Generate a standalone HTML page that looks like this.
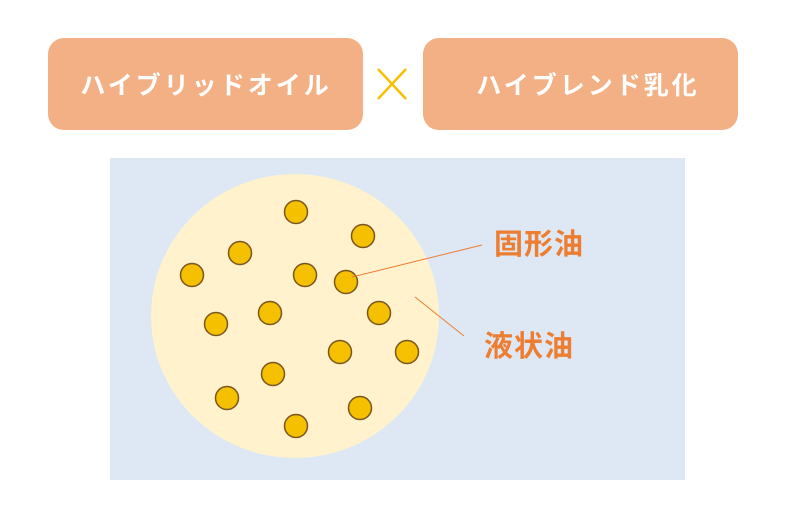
<!DOCTYPE html>
<html><head><meta charset="utf-8"><style>
body{margin:0;width:800px;height:523px;background:#fff;overflow:hidden;font-family:"Liberation Sans","Noto Sans CJK JP",sans-serif}
</style></head><body>
<svg width="800" height="523" xmlns="http://www.w3.org/2000/svg" style="position:absolute;left:0;top:0">
<rect x="48" y="38" width="315" height="92" rx="16" fill="#f3b084"/>
<rect x="423" y="38" width="315" height="92" rx="16" fill="#f3b084"/>
<text x="206" y="94" fill="#fff" font-size="25" font-weight="bold" letter-spacing="3" text-anchor="middle" font-family="Noto Sans CJK JP,sans-serif">ハイブリッドオイル</text>
<text x="588" y="94" fill="#fff" font-size="25" font-weight="bold" letter-spacing="3" text-anchor="middle" font-family="Noto Sans CJK JP,sans-serif">ハイブレンド乳化</text>
<line x1="378" y1="69" x2="406" y2="99" stroke="#f7c000" stroke-width="2.5"/>
<line x1="406" y1="69" x2="378" y2="99" stroke="#f7c000" stroke-width="2.5"/>
<rect x="110" y="158" width="575" height="322" fill="#dde8f4"/>
<ellipse cx="295" cy="316" rx="144" ry="142" fill="#fff2cc"/>
<g fill="#f5c000" stroke="#7a5520" stroke-width="1.5">
<circle cx="296" cy="212" r="11.5"/><circle cx="363" cy="236" r="11.5"/><circle cx="240" cy="253" r="11.5"/>
<circle cx="192" cy="275" r="11.5"/><circle cx="305" cy="275" r="11.5"/><circle cx="346" cy="282" r="11.5"/>
<circle cx="270" cy="313" r="11.5"/><circle cx="379" cy="313" r="11.5"/><circle cx="216" cy="324" r="11.5"/>
<circle cx="340" cy="352" r="11.5"/><circle cx="407" cy="352" r="11.5"/><circle cx="273" cy="374" r="11.5"/>
<circle cx="227" cy="398" r="11.5"/><circle cx="360" cy="408" r="11.5"/><circle cx="296" cy="426" r="11.5"/>
</g>
<line x1="352" y1="277" x2="482" y2="245" stroke="#ed7d31" stroke-width="1"/>
<line x1="415" y1="297" x2="464" y2="336" stroke="#ed7d31" stroke-width="1"/>
<text x="494" y="254" fill="#ed7d31" font-size="29" font-weight="bold" letter-spacing="1" font-family="Noto Sans CJK JP,sans-serif">固形油</text>
<text x="484" y="356" fill="#ed7d31" font-size="29" font-weight="bold" letter-spacing="1" font-family="Noto Sans CJK JP,sans-serif">液状油</text>
</svg>
</body></html>
